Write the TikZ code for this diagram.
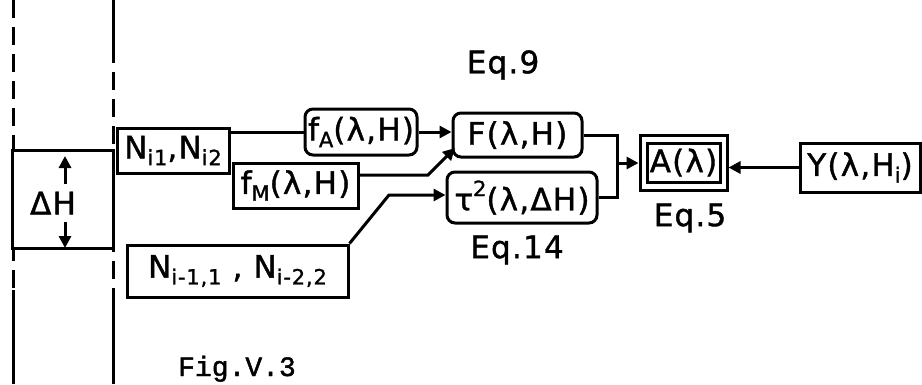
\documentclass[tikz,border=0pt]{standalone}
\usepackage{fontspec}
\setmainfont{DejaVu Sans}[LetterSpace=4,FakeBold=1.3]
\newfontfamily\typew{Liberation Mono}[FakeBold=1.5]
\usetikzlibrary{arrows.meta}
\newcommand\lo[1]{\raisebox{-0.4ex}{\fontsize{21}{22}\selectfont #1}}
\newcommand\hi[1]{\raisebox{0.85ex}{\fontsize{21}{22}\selectfont #1}}
\begin{document}
\begin{tikzpicture}[x=1pt,y=-1pt, line width=3pt,
  blk/.style={draw, inner sep=0pt, font=\fontsize{31}{34}\selectfont},
  rblk/.style={blk, rounded corners=8pt},
  arr/.style={-{Triangle[length=12pt,width=12pt]}},
  lbl/.style={font=\fontsize{31}{34}\selectfont},
  dsh/.style={dash pattern=on 18pt off 9pt}]
\useasboundingbox (0,0) rectangle (922,384);
% vertical dashed guides
\draw[dsh] (13,0) -- (13,290);
\draw (13,290) -- (13,384);
\draw (113,0) -- (113,45);
\draw[dsh] (113,45) -- (113,300);
\draw (113,300) -- (113,384);
% Delta H box
\node[blk, fill=white, minimum width=101pt, minimum height=98pt] (dh) at (62.5,199) {};
\node[lbl] (dhl) at (53,203) {ΔH};
\coordinate (up1) at (65,184);
\coordinate (up2) at (65,156);
\coordinate (dn1) at (65,222);
\coordinate (dn2) at (65,248);
\draw[arr] (up1) -- (up2);
\draw[arr] (dn1) -- (dn2);
% blocks
\node[blk, minimum width=112pt, minimum height=45pt] (ni) at (173,150.5) {N\lo{i1},N\lo{i2}};
\node[rblk, minimum width=112pt, minimum height=46pt] (fa) at (361,132) {f\lo{A}(λ,H)};
\node[rblk, minimum width=129pt, minimum height=44pt] (F) at (517.5,135) {F(λ,H)};
\node[blk, minimum width=125pt, minimum height=45pt] (fm) at (295.5,185.5) {f\lo{M}(λ,H)};
\node[rblk, minimum width=150pt, minimum height=51pt] (tau) at (522,197.5) {τ\hi{2}(λ,ΔH)};
\node[blk, minimum width=221pt, minimum height=52pt] (np) at (237.5,271) {N\lo{i-1,1} , N\lo{i-2,2}};
\node[blk, minimum width=87pt, minimum height=55pt] (A) at (683.5,162.5) {};
\node[blk, minimum width=73pt, minimum height=39pt] (Ain) at (683.5,162.5) {A(λ)};
\node[blk, minimum width=120pt, minimum height=49pt] (Y) at (860,167.5) {Y(λ,H\lo{i})};
% labels
\node[lbl] (eq9) at (503,65) {Eq.9};
\node[lbl] (eq14) at (517,250) {Eq.14};
\node[lbl] (eq5) at (690,218) {Eq.5};
\node[font=\typew\fontsize{28}{30}\selectfont, anchor=base] (fig) at (237,376) {Fig.V.3};
% connectors
\draw (ni.east |- fa.west) -- (fa.west);
\draw[arr] (fa.east) -- (fa.east -| F.west);
\coordinate (fmk) at (428,175);
\coordinate (fin) at (455,148);
\draw[arr] (fm.east |- fmk) -- (fmk) -- (fin);
\coordinate (npk) at (389,195);
\draw[arr] (np.north east) -- (npk) -- (npk -| tau.west);
\coordinate (jn) at (617,163);
\draw (F.east) -| (jn) |- (tau.east);
\draw[arr] (jn) -- (jn -| A.west);
\draw[arr] (Y.west) -- (Y.west -| A.east);
\end{tikzpicture}
\end{document}
